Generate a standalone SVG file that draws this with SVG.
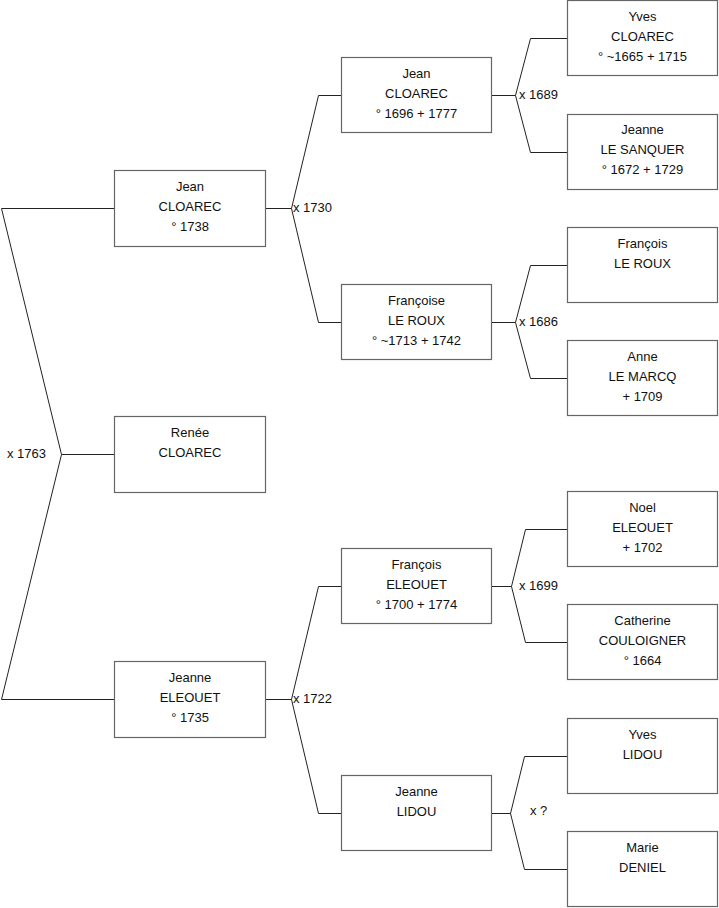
<svg xmlns="http://www.w3.org/2000/svg" width="719" height="908" viewBox="0 0 719 908">
<style>
.box{fill:#fff;stroke:#666;stroke-width:1.2}
.ln{fill:none;stroke:#222;stroke-width:1}
text{font-family:"Liberation Sans",Arial,sans-serif;font-size:13px;fill:#111}
.c{text-anchor:middle}
</style>
<rect width="719" height="908" fill="#fff"/>
<g id="connectors">
<polyline class="ln" points="114,208.5 1.5,208.5 61.5,454.5 1.5,699.5 114,699.5"/>
<line class="ln" x1="61.5" y1="454.5" x2="114" y2="454.5"/>
<polyline class="ln" points="341,95.5 318.5,95.5 291.5,208.5 318.5,322.5 341,322.5"/>
<line class="ln" x1="265" y1="208.5" x2="291.5" y2="208.5"/>
<polyline class="ln" points="341,586.5 318.5,586.5 291.5,699.5 318.5,813.5 341,813.5"/>
<line class="ln" x1="265" y1="699.5" x2="291.5" y2="699.5"/>
<polyline class="ln" points="567,38.5 530.5,38.5 515.5,95.5 530.5,152.5 567,152.5"/>
<line class="ln" x1="492" y1="95.5" x2="515.5" y2="95.5"/>
<polyline class="ln" points="567,265.5 530.5,265.5 515.5,322.5 530.5,378.5 567,378.5"/>
<line class="ln" x1="492" y1="322.5" x2="515.5" y2="322.5"/>
<polyline class="ln" points="567,529.5 525.5,529.5 511.5,586.5 525.5,642.5 567,642.5"/>
<line class="ln" x1="492" y1="586.5" x2="511.5" y2="586.5"/>
<polyline class="ln" points="567,756.5 524.5,756.5 510.5,813.5 524.5,869.5 567,869.5"/>
<line class="ln" x1="492" y1="813.5" x2="510.5" y2="813.5"/>
<text x="7" y="458">x 1763</text>
<text x="293" y="212">x 1730</text>
<text x="293" y="703">x 1722</text>
<text x="519" y="99">x 1689</text>
<text x="519" y="326">x 1686</text>
<text x="519" y="590">x 1699</text>
<text x="530" y="815">x ?</text>
</g>
<g id="p1-jean-cloarec">
<rect class="box" x="114.5" y="170.5" width="151" height="76"/>
<text class="c" x="190" y="191">Jean</text>
<text class="c" x="190" y="211">CLOAREC</text>
<text class="c" x="190" y="231">° 1738</text>
</g>
<g id="p0-renee-cloarec">
<rect class="box" x="114.5" y="416.5" width="151" height="76"/>
<text class="c" x="190" y="437">Renée</text>
<text class="c" x="190" y="457">CLOAREC</text>
</g>
<g id="p1-jeanne-eleouet">
<rect class="box" x="114.5" y="661.5" width="151" height="76"/>
<text class="c" x="190" y="682">Jeanne</text>
<text class="c" x="190" y="702">ELEOUET</text>
<text class="c" x="190" y="722">° 1735</text>
</g>
<g id="p2-jean-cloarec">
<rect class="box" x="341.5" y="57.5" width="150" height="75"/>
<text class="c" x="416.5" y="78">Jean</text>
<text class="c" x="416.5" y="98">CLOAREC</text>
<text class="c" x="416.5" y="118">° 1696 + 1777</text>
</g>
<g id="p2-francoise-le-roux">
<rect class="box" x="341.5" y="284.5" width="150" height="75"/>
<text class="c" x="416.5" y="305">Françoise</text>
<text class="c" x="416.5" y="325">LE ROUX</text>
<text class="c" x="416.5" y="345">° ~1713 + 1742</text>
</g>
<g id="p2-francois-eleouet">
<rect class="box" x="341.5" y="548.5" width="150" height="75"/>
<text class="c" x="416.5" y="569">François</text>
<text class="c" x="416.5" y="589">ELEOUET</text>
<text class="c" x="416.5" y="609">° 1700 + 1774</text>
</g>
<g id="p2-jeanne-lidou">
<rect class="box" x="341.5" y="775.5" width="150" height="75"/>
<text class="c" x="416.5" y="796">Jeanne</text>
<text class="c" x="416.5" y="816">LIDOU</text>
</g>
<g id="p3-yves-cloarec">
<rect class="box" x="567.5" y="0.5" width="150" height="75"/>
<text class="c" x="642.5" y="21">Yves</text>
<text class="c" x="642.5" y="41">CLOAREC</text>
<text class="c" x="642.5" y="61">° ~1665 + 1715</text>
</g>
<g id="p3-jeanne-le-sanquer">
<rect class="box" x="567.5" y="114.5" width="150" height="75"/>
<text class="c" x="642.5" y="134">Jeanne</text>
<text class="c" x="642.5" y="154">LE SANQUER</text>
<text class="c" x="642.5" y="174">° 1672 + 1729</text>
</g>
<g id="p3-francois-le-roux">
<rect class="box" x="567.5" y="227.5" width="150" height="75"/>
<text class="c" x="642.5" y="248">François</text>
<text class="c" x="642.5" y="268">LE ROUX</text>
</g>
<g id="p3-anne-le-marcq">
<rect class="box" x="567.5" y="340.5" width="150" height="75"/>
<text class="c" x="642.5" y="361">Anne</text>
<text class="c" x="642.5" y="381">LE MARCQ</text>
<text class="c" x="642.5" y="401">+ 1709</text>
</g>
<g id="p3-noel-eleouet">
<rect class="box" x="567.5" y="491.5" width="150" height="75"/>
<text class="c" x="642.5" y="512">Noel</text>
<text class="c" x="642.5" y="532">ELEOUET</text>
<text class="c" x="642.5" y="552">+ 1702</text>
</g>
<g id="p3-catherine-couloigner">
<rect class="box" x="567.5" y="604.5" width="150" height="75"/>
<text class="c" x="642.5" y="625">Catherine</text>
<text class="c" x="642.5" y="645">COULOIGNER</text>
<text class="c" x="642.5" y="665">° 1664</text>
</g>
<g id="p3-yves-lidou">
<rect class="box" x="567.5" y="718.5" width="150" height="75"/>
<text class="c" x="642.5" y="739">Yves</text>
<text class="c" x="642.5" y="759">LIDOU</text>
</g>
<g id="p3-marie-deniel">
<rect class="box" x="567.5" y="831.5" width="150" height="75"/>
<text class="c" x="642.5" y="852">Marie</text>
<text class="c" x="642.5" y="872">DENIEL</text>
</g>
</svg>
